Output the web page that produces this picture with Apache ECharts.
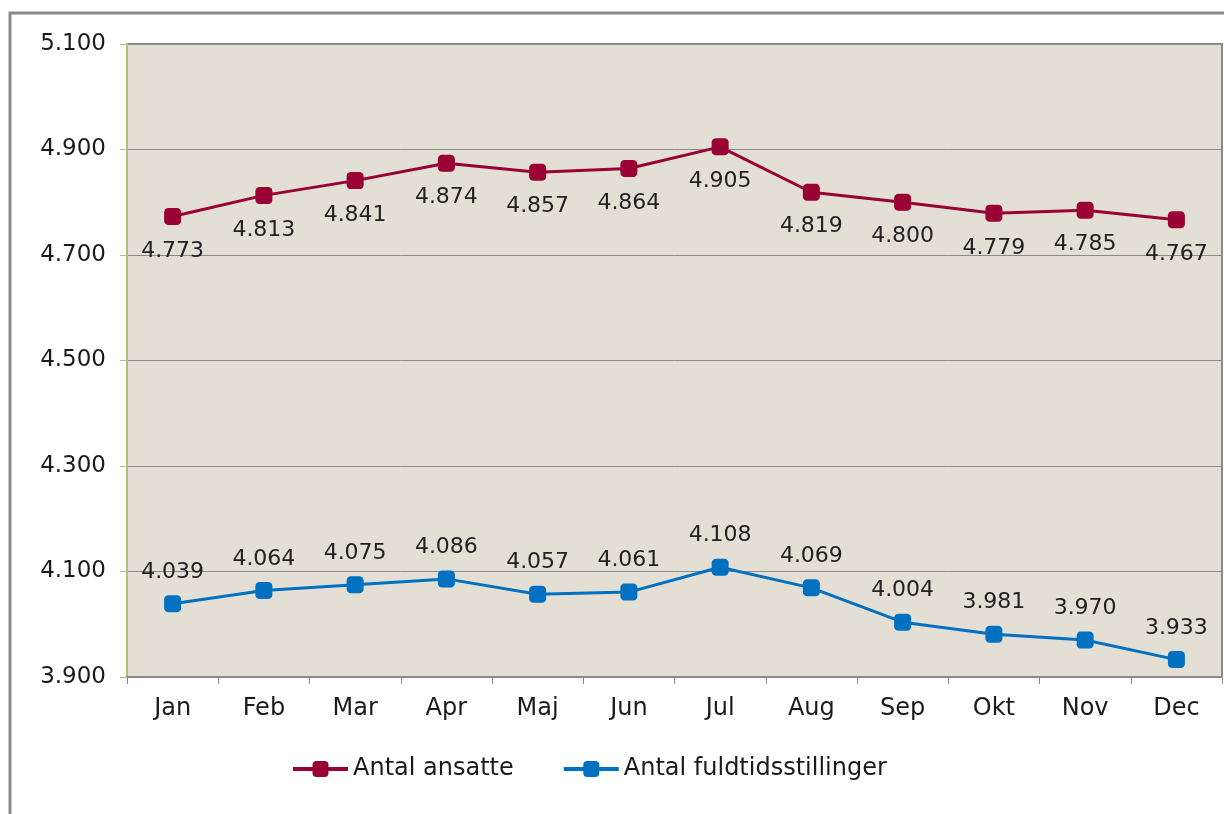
<!DOCTYPE html>
<html>
<head>
<meta charset="utf-8">
<script src="https://cdn.jsdelivr.net/npm/echarts@6/dist/echarts.min.js"></script>
<style>
html,body{margin:0;padding:0;background:#fff;}
#chart{width:1224px;height:814px;}
</style>
</head>
<body>
<div id="chart"></div>
<script>
const months = ['Jan','Feb','Mar','Apr','Maj','Jun','Jul','Aug','Sep','Okt','Nov','Dec'];
const antalAnsatte = [4773, 4813, 4841, 4874, 4857, 4864, 4905, 4819, 4800, 4779, 4785, 4767];
const antalFuldtid = [4039, 4064, 4075, 4086, 4057, 4061, 4108, 4069, 4004, 3981, 3970, 3933];
const yTicks = [3900, 4100, 4300, 4500, 4700, 4900, 5100];
const seriesNames = ['Antal ansatte', 'Antal fuldtidsstillinger'];

const fmt = v => (v / 1000).toFixed(3);
const FONT = 'DejaVu Sans';

const chart = echarts.init(document.getElementById('chart'), null, {renderer: 'canvas'});
chart.setOption({
  animation: false,
  backgroundColor: '#ffffff',
  textStyle: {fontFamily: FONT},
  graphic: [{
    type: 'rect',
    shape: {x: 10, y: 13, width: 1230, height: 820},
    style: {fill: 'none', stroke: '#8a8a8a', lineWidth: 3},
    z: 0
  }],
  grid: {
    left: 127, right: 2, top: 44, bottom: 137,
    show: true,
    backgroundColor: '#e3dfd5',
    borderColor: '#8a8a8a',
    borderWidth: 2
  },
  legend: {
    data: seriesNames,
    left: 286,
    top: 752,
    itemWidth: 55,
    itemHeight: 20,
    itemGap: 48,
    lineStyle: {width: 4},
    textStyle: {fontFamily: FONT, fontSize: 24, color: '#1a1a1a'}
  },
  xAxis: {
    type: 'category',
    data: months,
    boundaryGap: true,
    axisLine: {lineStyle: {color: '#8a8a8a', width: 2}},
    axisTick: {show: true, alignWithLabel: false, length: 7, lineStyle: {color: '#8a8a8a', width: 1}},
    axisLabel: {fontFamily: FONT, fontSize: 24, color: '#1a1a1a', margin: 20},
    splitLine: {show: false}
  },
  yAxis: {
    type: 'value',
    min: yTicks[0],
    max: yTicks[yTicks.length - 1],
    axisLine: {show: true, lineStyle: {color: '#a8c47a', width: 2}},
    axisTick: {show: true, inside: false, length: 7, lineStyle: {color: '#a8c47a', width: 1}, customValues: yTicks},
    axisLabel: {fontFamily: FONT, fontSize: 23, color: '#1a1a1a', margin: 21, formatter: fmt, customValues: yTicks},
    splitLine: {show: true, lineStyle: {color: '#8a8a8a', width: 1}}
  },
  series: [
    {
      name: seriesNames[0],
      type: 'line',
      data: antalAnsatte,
      symbol: 'roundRect',
      symbolSize: 17,
      lineStyle: {color: '#990033', width: 3},
      itemStyle: {color: '#990033'},
      label: {
        show: true, position: 'bottom', distance: 15,
        fontFamily: FONT, fontSize: 22, color: '#222',
        formatter: p => fmt(p.value)
      },
      z: 3
    },
    {
      name: seriesNames[1],
      type: 'line',
      data: antalFuldtid,
      symbol: 'roundRect',
      symbolSize: 17,
      lineStyle: {color: '#0070c0', width: 3},
      itemStyle: {color: '#0070c0'},
      label: {
        show: true, position: 'top', distance: 12,
        fontFamily: FONT, fontSize: 22, color: '#222',
        formatter: p => fmt(p.value)
      },
      z: 3
    }
  ]
});
</script>
</body>
</html>
